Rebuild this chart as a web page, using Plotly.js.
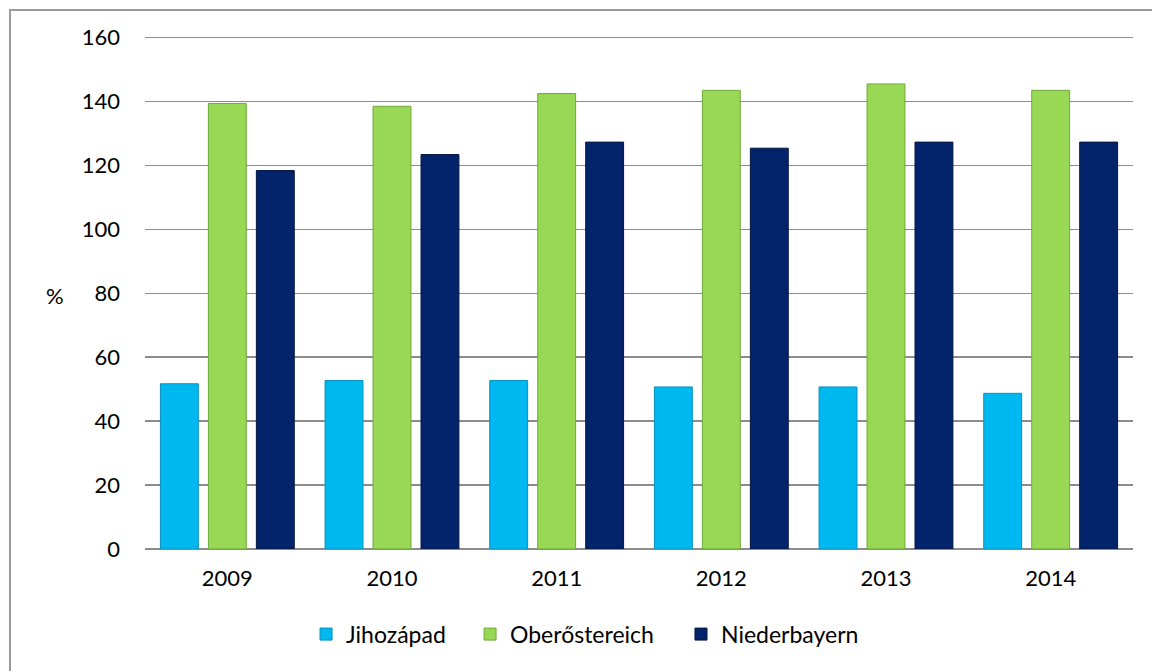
<!DOCTYPE html>
<html>
<head>
<meta charset="utf-8">
<script src="https://cdn.plot.ly/plotly-3.0.1.min.js"></script>
<style>
html,body{margin:0;padding:0;background:#fff;}
#chart{width:1152px;height:671px;position:relative;}
#frame{position:absolute;left:9px;top:9px;width:1400px;height:900px;border-left:2px solid #9a9a9a;border-top:2px solid #9a9a9a;pointer-events:none;}
#wrap{position:relative;width:1152px;height:671px;overflow:hidden;}
</style>
</head>
<body>
<div id="wrap">
<div id="chart"></div>
<div id="frame"></div>
</div>
<script>
const years = ['2009', '2010', '2011', '2012', '2013', '2014'];
const jihozapad = [51.7, 52.7, 52.7, 50.7, 50.7, 48.7];
const oberosterreich = [139.4, 138.5, 142.5, 143.5, 145.5, 143.5];
const niederbayern = [118.4, 123.4, 127.3, 125.4, 127.3, 127.3];
const seriesNames = ['Jihozápad', 'Oberőstereich', 'Niederbayern'];
const yTicks = [0, 20, 40, 60, 80, 100, 120, 140, 160];

const FONT = 'Lato, "Open Sans", "DejaVu Sans", sans-serif';

function barTrace(name, vals, color, edge, legendId) {
  return {
    type: 'bar', name: name, x: years, y: vals, legend: legendId,
    marker: {color: color, line: {color: edge, width: 1}},
    hoverinfo: 'x+y+name'
  };
}

const data = [
  barTrace(seriesNames[0], jihozapad, '#00B8F0', '#0590BE', 'legend'),
  barTrace(seriesNames[1], oberosterreich, '#98D855', '#6FA83A', 'legend2'),
  barTrace(seriesNames[2], niederbayern, '#03246A', '#021640', 'legend3')
];

function legendAt(x) {
  return {
    orientation: 'h', x: x, xanchor: 'left', y: -0.166, yanchor: 'middle',
    font: {family: FONT, size: 23, color: '#000'},
    itemwidth: 30, bgcolor: 'rgba(0,0,0,0)'
  };
}

const layout = {
  width: 1152, height: 671,
  paper_bgcolor: 'rgba(0,0,0,0)', plot_bgcolor: 'rgba(0,0,0,0)',
  margin: {l: 145, r: 19, t: 35.9, b: 121.5, pad: 0},
  barmode: 'group', bargap: 0.126, bargroupgap: 0.21,
  font: {family: FONT, size: 22, color: '#000'},
  showlegend: true,
  legend: legendAt(0.163),
  legend2: legendAt(0.329),
  legend3: legendAt(0.5425),
  xaxis: {
    type: 'category', showgrid: false, showline: false, ticks: '',
    tickfont: {family: FONT, size: 22, color: '#000'},
    ticklabelstandoff: 14, fixedrange: true
  },
  yaxis: {
    range: [0, 160.5], tickvals: yTicks, ticktext: yTicks.map(String),
    showgrid: true, gridcolor: '#8c8c8c', gridwidth: 1.5,
    zeroline: true, zerolinecolor: '#8c8c8c', zerolinewidth: 1.5,
    showline: false, ticks: '',
    tickfont: {family: FONT, size: 22, color: '#000'},
    ticklabelstandoff: 24, fixedrange: true
  },
  annotations: [{
    text: '%', xref: 'paper', yref: 'paper', x: -0.091, y: 0.495,
    xanchor: 'center', yanchor: 'middle', showarrow: false,
    font: {family: FONT, size: 22, color: '#000'}
  }]
};

Plotly.newPlot('chart', data, layout, {displayModeBar: false, staticPlot: true});
</script>
</body>
</html>
